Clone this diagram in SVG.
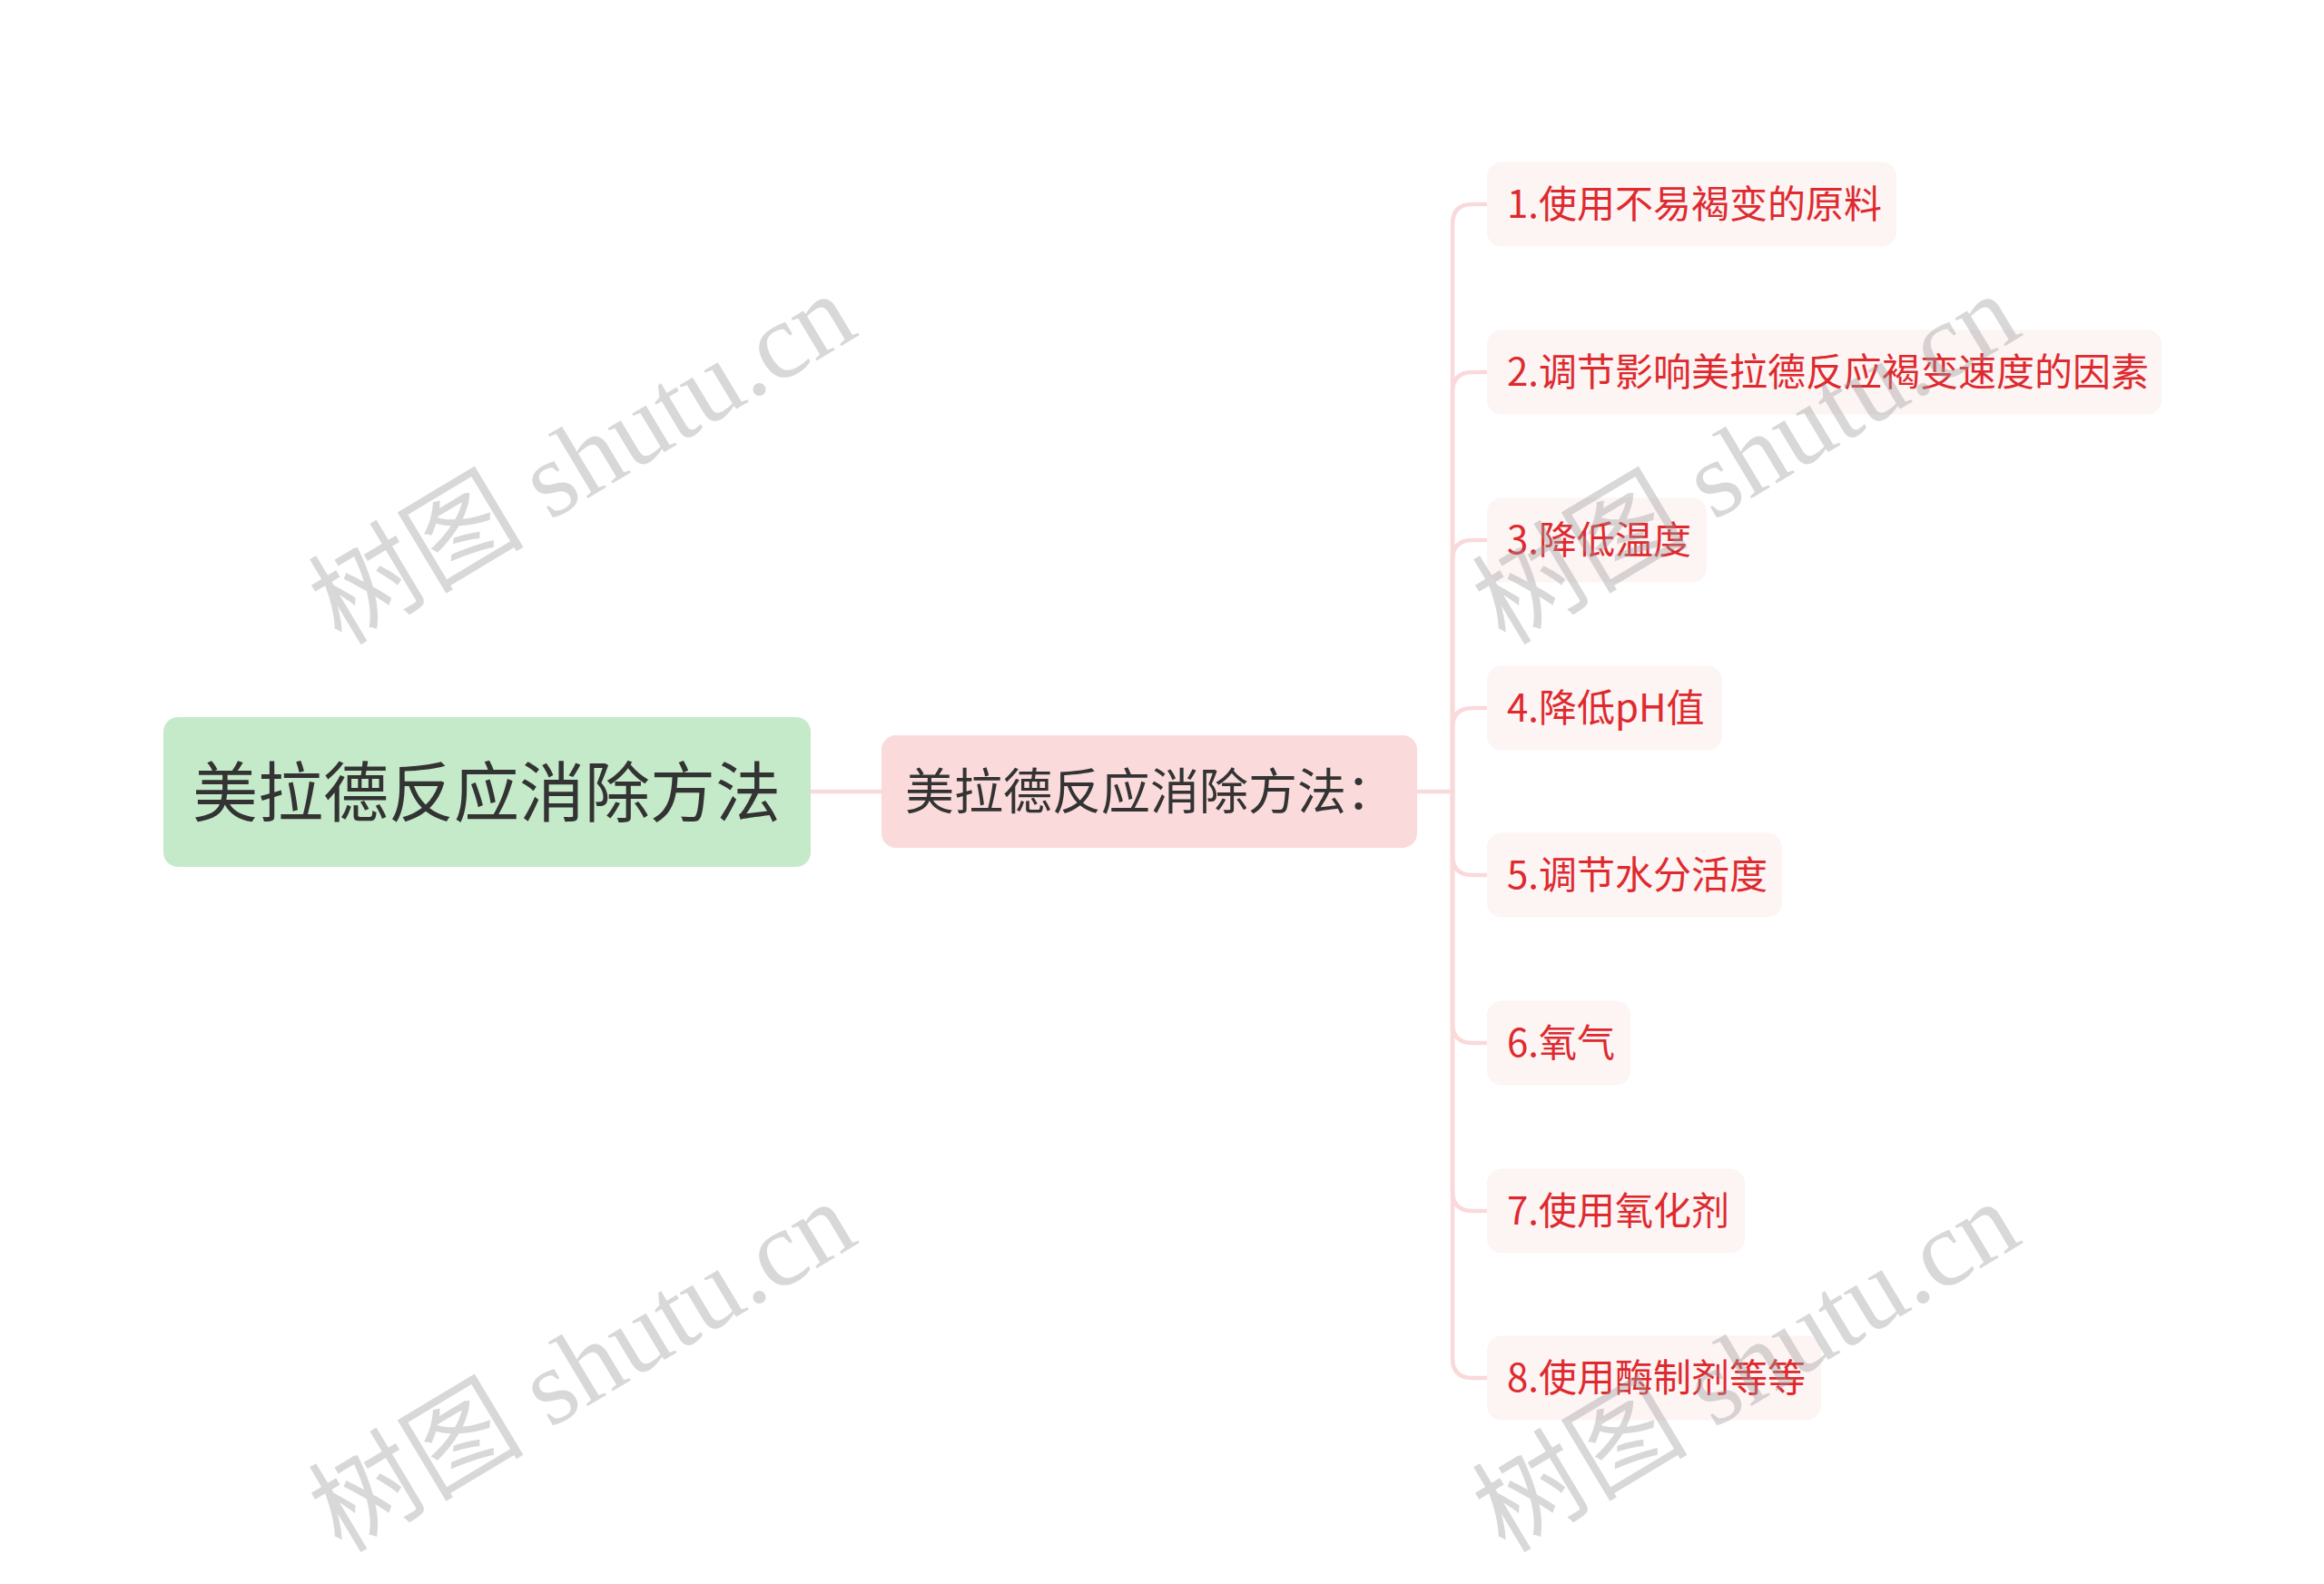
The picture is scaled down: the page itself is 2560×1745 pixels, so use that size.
<svg xmlns="http://www.w3.org/2000/svg" width="2560" height="1745" viewBox="0 0 2560 1745">
<style>
.cjk{font-family:"Noto Sans CJK SC","Noto Sans",sans-serif}
.root-box{fill:#c5eac9}
.root-txt{font-size:72px;fill:#333333}
.mid-box{fill:#fadadb}
.mid-txt{font-size:54px;fill:#333333}
.leaf-box{fill:#fdf4f4}
.leaf-txt{font-size:42px;fill:#de2a2f}
.conn{fill:none;stroke:#f9d9da;stroke-width:4.5;stroke-linecap:round}
.wm{font-family:"Liberation Serif","Noto Sans CJK SC",serif;font-size:119px;fill:#999999;fill-opacity:0.38}
</style>
<rect width="2560" height="1745" fill="#ffffff"/>
<g id="connectors">
<path class="conn" d="M893 872H971"/>
<path class="conn" d="M1561 872H1600"/>
<path class="conn" d="M1600 872V247Q1600 225 1622 225H1638"/>
<path class="conn" d="M1600 872V432Q1600 410 1622 410H1638"/>
<path class="conn" d="M1600 872V617Q1600 595 1622 595H1638"/>
<path class="conn" d="M1600 872V802Q1600 780 1622 780H1638"/>
<path class="conn" d="M1600 872V942Q1600 964 1622 964H1638"/>
<path class="conn" d="M1600 872V1127Q1600 1149 1622 1149H1638"/>
<path class="conn" d="M1600 872V1312Q1600 1334 1622 1334H1638"/>
<path class="conn" d="M1600 872V1496Q1600 1518 1622 1518H1638"/>
</g>
<g id="root">
<rect class="root-box" x="180" y="790" width="713" height="165" rx="16"/>
<text class="cjk root-txt" x="536" y="899" text-anchor="middle">美拉德反应消除方法</text>
</g>
<g id="mid">
<rect class="mid-box" x="971" y="810" width="590" height="124" rx="16"/>
<text class="cjk mid-txt" x="997" y="892">美拉德反应消除方法：</text>
</g>
<g id="leaf1"><rect class="leaf-box" x="1638" y="178.5" width="451" height="93" rx="16"/><text class="cjk leaf-txt" x="1660" y="240">1.使用不易褐变的原料</text></g>
<g id="leaf2"><rect class="leaf-box" x="1638" y="363.5" width="743" height="93" rx="16"/><text class="cjk leaf-txt" x="1660" y="425">2.调节影响美拉德反应褐变速度的因素</text></g>
<g id="leaf3"><rect class="leaf-box" x="1638" y="548.5" width="242" height="93" rx="16"/><text class="cjk leaf-txt" x="1660" y="610">3.降低温度</text></g>
<g id="leaf4"><rect class="leaf-box" x="1638" y="733.5" width="259" height="93" rx="16"/><text class="cjk leaf-txt" x="1660" y="795">4.降低pH值</text></g>
<g id="leaf5"><rect class="leaf-box" x="1638" y="917.5" width="325" height="93" rx="16"/><text class="cjk leaf-txt" x="1660" y="979">5.调节水分活度</text></g>
<g id="leaf6"><rect class="leaf-box" x="1638" y="1102.5" width="158" height="93" rx="16"/><text class="cjk leaf-txt" x="1660" y="1164">6.氧气</text></g>
<g id="leaf7"><rect class="leaf-box" x="1638" y="1287.5" width="284" height="93" rx="16"/><text class="cjk leaf-txt" x="1660" y="1349">7.使用氧化剂</text></g>
<g id="leaf8"><rect class="leaf-box" x="1638" y="1471.5" width="368" height="93" rx="16"/><text class="cjk leaf-txt" x="1660" y="1533">8.使用酶制剂等等</text></g>
<g id="watermarks">
<text class="wm" transform="translate(376 712) rotate(-31)">树图 shutu.cn</text>
<text class="wm" transform="translate(376 1712) rotate(-31)">树图 shutu.cn</text>
<text class="wm" transform="translate(1658 712) rotate(-31)">树图 shutu.cn</text>
<text class="wm" transform="translate(1658 1712) rotate(-31)">树图 shutu.cn</text>
</g>
</svg>
